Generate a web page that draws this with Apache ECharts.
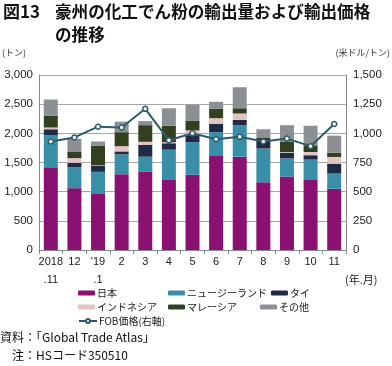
<!DOCTYPE html>
<html><head><meta charset="utf-8">
<script src="https://cdn.jsdelivr.net/npm/echarts@6/dist/echarts.min.js"></script>
<style>html,body{margin:0;padding:0;background:#fff}#c{width:392px;height:366px}</style>
</head><body><div id="c"></div>
<script>
const categories = ['2018\n.11','12',"'19\n.1",'2','3','4','5','6','7','8','9','10','11'];
const japan     = [1420,1060,960,1300,1340,1200,1290,1610,1600,1160,1260,1200,1050];
const nz        = [550,360,380,340,260,520,560,410,540,580,310,350,260];
const thai      = [100,75,100,50,200,110,120,140,90,140,100,75,170];
const indonesia = [30,80,10,90,55,20,80,100,110,0,10,55,115];
const malaysia  = [200,115,340,240,285,280,170,160,90,40,180,115,75];
const other     = [280,215,70,180,70,300,270,120,360,150,280,335,290];
const fob       = [930,965,1057,1050,1210,940,1000,950,970,930,955,890,1080];
const leftTicks = [0,500,1000,1500,2000,2500,3000];
const rightTicks = [0,250,500,750,1000,1250,1500];

const FONT = '"Noto Sans CJK JP","Noto Sans",sans-serif';
const NUMFONT = '"Liberation Sans","Noto Sans CJK JP",sans-serif';
const chart = echarts.init(document.getElementById('c'), null, {renderer:'canvas'});
const barNames = ['日本','ニュージーランド','タイ','インドネシア','マレーシア','その他'];
const barData = [japan,nz,thai,indonesia,malaysia,other];
const barColors = ['#8a1172','#3a8fa8','#1f2a44','#e3c3c3','#33401f','#8c8f94'];
const lineColor = '#2d5b6b';

const series = barNames.map((n,i)=>({
  name:n, type:'bar', stack:'a', data:barData[i], barWidth:14,
  itemStyle:{color:barColors[i]}, emphasis:{disabled:true}
}));
series.push({
  name:'FOB価格(右軸)', type:'line', yAxisIndex:1, data:fob,
  symbol:'circle', symbolSize:5, showSymbol:true,
  lineStyle:{color:lineColor,width:2},
  itemStyle:{color:'#fff',borderColor:lineColor,borderWidth:1.5},
  z:5
});

function lg(name, left, top){
  return {data:[name], left:left, top:top, orient:'horizontal', itemWidth:17, itemHeight:5,
    itemGap:0, padding:0, textStyle:{fontFamily:FONT,fontSize:10,color:'#222',padding:[0,0,0,-3]},
    selectedMode:false};
}
const legends = [
  lg('日本',78,288), lg('ニュージーランド',168,288), lg('タイ',271,288),
  lg('インドネシア',78,302), lg('マレーシア',168,302), lg('その他',260,302),
  Object.assign(lg('FOB価格(右軸)',78,316),{itemWidth:18})
];

chart.setOption({
  animation:false,
  textStyle:{fontFamily:FONT},
  grid:{left:39,right:46,top:75,bottom:116,containLabel:false},
  legend:legends,
  xAxis:{type:'category',data:categories,
    axisLine:{lineStyle:{color:'#888',width:1}},
    axisTick:{show:true,length:4,lineStyle:{color:'#888'}},
    axisLabel:{color:'#222',fontSize:11,lineHeight:18,margin:3,interval:0,fontFamily:NUMFONT}
  },
  yAxis:[
    {type:'value',min:leftTicks[0],max:leftTicks[leftTicks.length-1],interval:500,
     axisLine:{show:true,lineStyle:{color:'#888'}},axisTick:{show:false},
     splitLine:{lineStyle:{color:'#a6a6a6',width:1}},
     axisLabel:{color:'#222',fontSize:11.5,margin:6,fontFamily:NUMFONT,
       formatter:v=>v.toLocaleString('en-US')}},
    {type:'value',min:rightTicks[0],max:rightTicks[rightTicks.length-1],interval:250,
     axisLine:{show:true,lineStyle:{color:'#888'}},axisTick:{show:false},
     splitLine:{show:false},
     axisLabel:{color:'#222',fontSize:11.5,margin:7,fontFamily:NUMFONT,
       formatter:v=>v.toLocaleString('en-US')}}
  ],
  series:series,
  graphic:[
    {type:'text',left:3,top:3,style:{text:'図13',font:'bold 17px '+FONT,fill:'#111'}},
    {type:'text',left:55,top:3,style:{text:'豪州の化工でん粉の輸出量および輸出価格',font:'bold 16.6px '+FONT,fill:'#111'}},
    {type:'text',left:55,top:26,style:{text:'の推移',font:'bold 16.6px '+FONT,fill:'#111'}},
    {type:'text',left:2,top:48,style:{text:'(トン)',font:'9px '+FONT,fill:'#333'}},
    {type:'text',right:2,top:48,style:{text:'(米ドル/トン)',font:'9px '+FONT,fill:'#333'}},
    {type:'text',left:345,top:274,style:{text:'(年.月)',font:'11px '+FONT,fill:'#222'}},
    {type:'text',left:0,top:331,style:{text:'資料：「Global Trade Atlas」',font:'12px '+FONT,fill:'#111'}},
    {type:'text',left:12,top:349,style:{text:'注：HSコード350510',font:'12px '+FONT,fill:'#111'}}
  ]
});
</script></body></html>
